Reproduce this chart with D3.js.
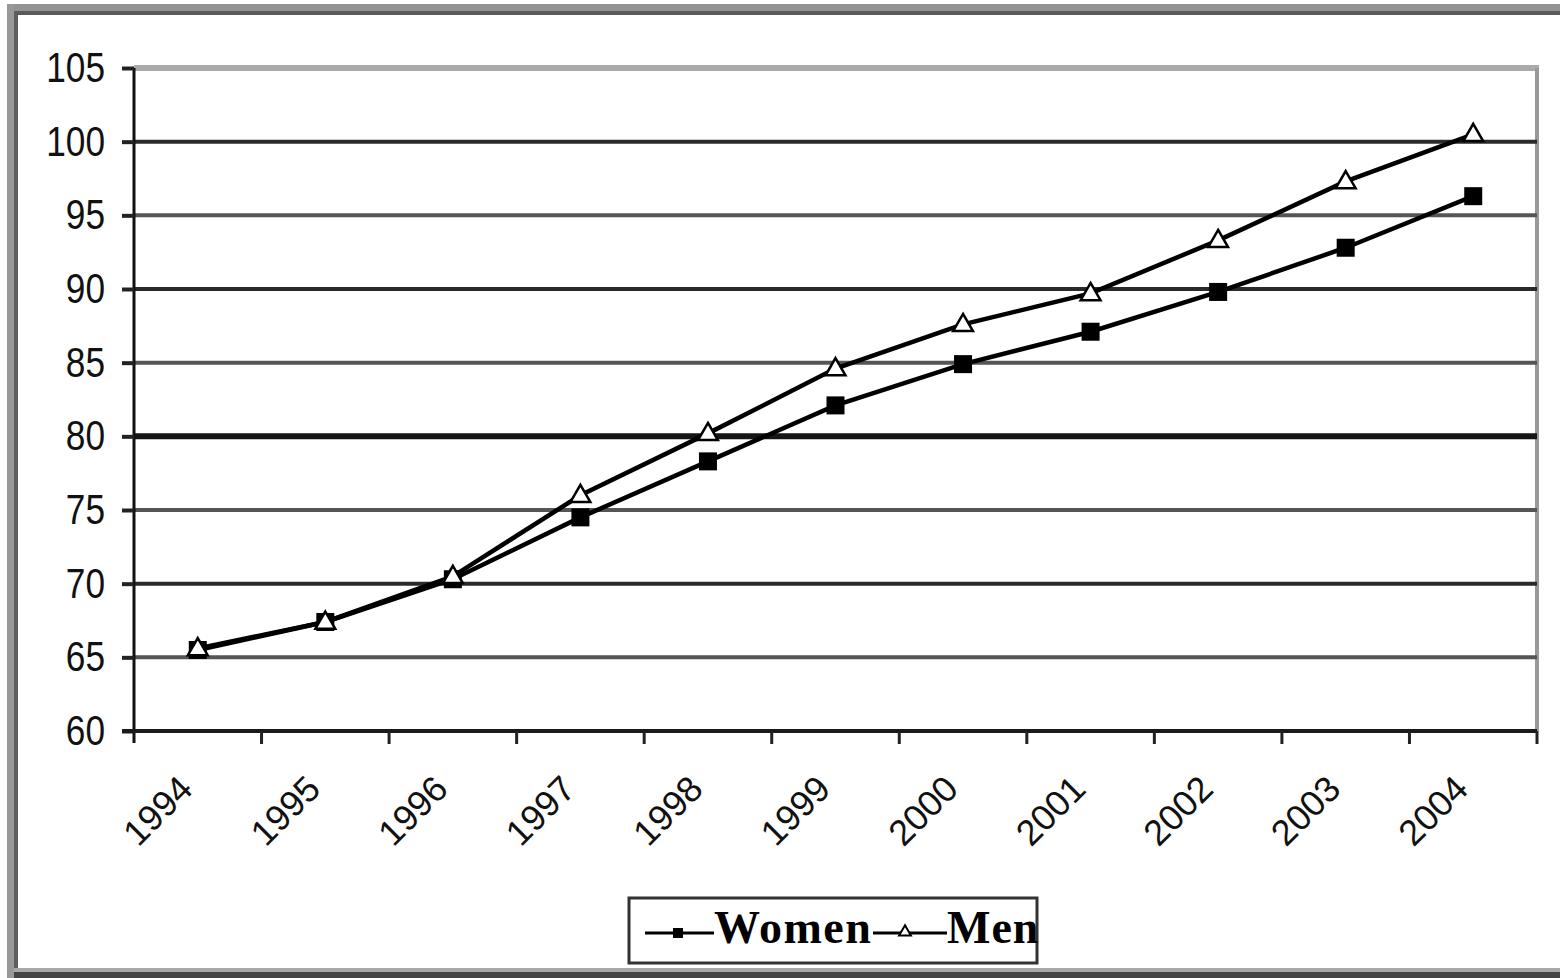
<!DOCTYPE html>
<html>
<head>
<meta charset="utf-8">
<script src="https://cdn.jsdelivr.net/npm/d3@7"></script>
<style>
  html, body { margin: 0; padding: 0; background: #fff; }
  svg { display: block; }
</style>
</head>
<body>
<svg id="chart" width="1560" height="978"></svg>
<script>
// Index values by year, two series
const years = ["1994", "1995", "1996", "1997", "1998", "1999", "2000", "2001", "2002", "2003", "2004"];
const women = [65.5, 67.4, 70.3, 74.5, 78.3, 82.1, 84.9, 87.1, 89.8, 92.8, 96.3];
const men   = [65.6, 67.4, 70.5, 76.0, 80.2, 84.6, 87.6, 89.7, 93.3, 97.3, 100.5];
const yTicks = [60, 65, 70, 75, 80, 85, 90, 95, 100, 105];
const seriesNames = ["Women", "Men"];

const svg = d3.select("#chart");
const W = 1560, H = 978;
const plot = { left: 134, right: 1537, top: 68, bottom: 731 };

// outer chart frame (light outer band with darker inner edge)
svg.append("rect").attr("x", 7).attr("y", 4).attr("width", W).attr("height", 7).attr("fill", "#939393");
svg.append("rect").attr("x", 14).attr("y", 11).attr("width", W).attr("height", 4).attr("fill", "#5a5a5a");
svg.append("rect").attr("x", 7).attr("y", 4).attr("width", 7).attr("height", 974).attr("fill", "#999");
svg.append("rect").attr("x", 14).attr("y", 11).attr("width", 4).attr("height", 967).attr("fill", "#5e5e5e");
svg.append("rect").attr("x", 14).attr("y", 968).attr("width", W).attr("height", 4).attr("fill", "#a8a8a8");
svg.append("rect").attr("x", 14).attr("y", 972).attr("width", W).attr("height", 6).attr("fill", "#444");

const x = d3.scaleBand().domain(years).range([plot.left, plot.right]).padding(0);
const y = d3.scaleLinear().domain([60, 105]).range([plot.bottom, plot.top]);
const cx = d => x(d) + x.bandwidth() / 2;

// plot area border: top and right edges
svg.append("line")
  .attr("x1", plot.left).attr("x2", plot.right + 2)
  .attr("y1", y(105)).attr("y2", y(105))
  .attr("stroke", "#aaa").attr("stroke-width", 6);
svg.append("line")
  .attr("x1", plot.right).attr("x2", plot.right)
  .attr("y1", y(105)).attr("y2", plot.bottom)
  .attr("stroke", "#999").attr("stroke-width", 4);

// horizontal gridlines
svg.append("g").selectAll("line")
  .data(yTicks.filter(v => v > 60 && v < 105))
  .join("line")
  .attr("x1", plot.left).attr("x2", plot.right)
  .attr("y1", d => y(d)).attr("y2", d => y(d))
  .attr("stroke", d => d === 80 ? "#151515" : (d % 10 === 5 ? "#555" : "#2a2a2a"))
  .attr("stroke-width", d => d === 80 ? 6 : 4);

// y axis (labels slightly condensed horizontally)
const labelSqueeze = 0.84;
const yAxis = svg.append("g")
  .attr("transform", `translate(${plot.left},0)`)
  .call(d3.axisLeft(y).tickValues(yTicks).tickSize(12).tickPadding(17).tickSizeOuter(0));
yAxis.select(".domain").attr("stroke", "#111").attr("stroke-width", 3)
  .attr("d", `M0,${y(105)}V${plot.bottom + 12}`);
yAxis.selectAll(".tick line").attr("stroke", "#222").attr("stroke-width", 4);
yAxis.selectAll(".tick text")
  .attr("font-family", "Liberation Sans, Arial, sans-serif")
  .attr("font-size", 42).attr("fill", "#111")
  .attr("x", -29 / labelSqueeze)
  .attr("transform", `scale(${labelSqueeze},1)`);

// x axis: line at 60, ticks on category boundaries, rotated year labels
svg.append("line")
  .attr("x1", plot.left - 12).attr("x2", plot.right)
  .attr("y1", plot.bottom).attr("y2", plot.bottom)
  .attr("stroke", "#1a1a1a").attr("stroke-width", 4);
const boundaries = years.map(d => x(d)).concat([x.range()[1]]);
svg.append("g").selectAll("line")
  .data(boundaries.slice(1))
  .join("line")
  .attr("x1", d => d).attr("x2", d => d)
  .attr("y1", plot.bottom).attr("y2", plot.bottom + 13)
  .attr("stroke", "#222").attr("stroke-width", 3);

const xAxis = svg.append("g")
  .attr("transform", `translate(0,${plot.bottom})`)
  .call(d3.axisBottom(x).tickSize(0).tickSizeOuter(0));
xAxis.select(".domain").remove();
xAxis.selectAll(".tick text")
  .attr("font-family", "Liberation Sans, Arial, sans-serif")
  .attr("font-size", 36).attr("fill", "#111")
  .attr("text-anchor", "end")
  .attr("dy", null).attr("y", 0)
  .attr("transform", "translate(-3,60) rotate(-45)");

// series lines and markers
const lineGen = d3.line().x(d => cx(d.year)).y(d => y(d.value));
const womenData = years.map((yr, i) => ({ year: yr, value: women[i] }));
const menData = years.map((yr, i) => ({ year: yr, value: men[i] }));

svg.append("path").datum(womenData)
  .attr("fill", "none").attr("stroke", "#000").attr("stroke-width", 4.5)
  .attr("d", lineGen);
svg.append("g").selectAll("rect")
  .data(womenData)
  .join("rect")
  .attr("x", d => cx(d.year) - 9).attr("y", d => y(d.value) - 9)
  .attr("width", 18).attr("height", 18)
  .attr("fill", "#000");

svg.append("path").datum(menData)
  .attr("fill", "none").attr("stroke", "#000").attr("stroke-width", 4.5)
  .attr("d", lineGen);
const tri = d3.symbol().type(d3.symbolTriangle).size(170);
svg.append("g").selectAll("path")
  .data(menData)
  .join("path")
  .attr("transform", d => `translate(${cx(d.year)},${y(d.value) + 1})`)
  .attr("d", tri)
  .attr("fill", "#fff").attr("stroke", "#000").attr("stroke-width", 2.5);

// legend
const lg = svg.append("g");
lg.append("rect").attr("x", 629).attr("y", 898).attr("width", 408).attr("height", 65)
  .attr("fill", "#fff").attr("stroke", "#333").attr("stroke-width", 3);
const legendY = 933;
// Women entry
lg.append("line").attr("x1", 645).attr("x2", 714).attr("y1", legendY).attr("y2", legendY)
  .attr("stroke", "#000").attr("stroke-width", 3);
lg.append("rect").attr("x", 673).attr("y", legendY - 5).attr("width", 10).attr("height", 10).attr("fill", "#000");
lg.append("text").attr("x", 714).attr("y", legendY + 10)
  .attr("font-family", "Liberation Serif, Times New Roman, serif")
  .attr("font-weight", "bold").attr("font-size", 46).attr("letter-spacing", 1.5)
  .attr("fill", "#000").text(seriesNames[0]);
// Men entry
lg.append("line").attr("x1", 873).attr("x2", 947).attr("y1", legendY).attr("y2", legendY)
  .attr("stroke", "#000").attr("stroke-width", 3);
lg.append("path").attr("transform", `translate(905,${legendY - 1})`)
  .attr("d", d3.symbol().type(d3.symbolTriangle).size(60))
  .attr("fill", "#fff").attr("stroke", "#000").attr("stroke-width", 2);
lg.append("text").attr("x", 947).attr("y", legendY + 10)
  .attr("font-family", "Liberation Serif, Times New Roman, serif")
  .attr("font-weight", "bold").attr("font-size", 46).attr("letter-spacing", 1)
  .attr("fill", "#000").text(seriesNames[1]);
</script>
</body>
</html>
